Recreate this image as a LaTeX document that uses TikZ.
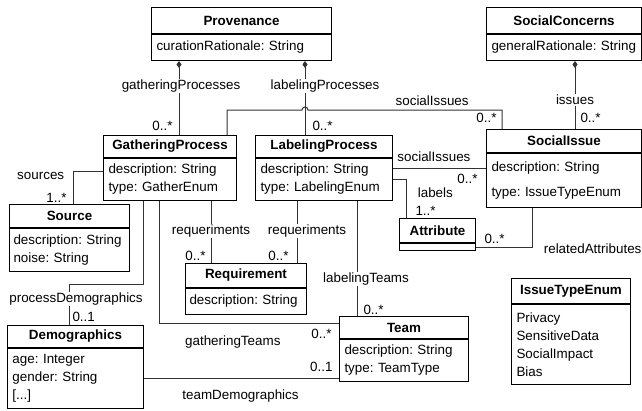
\documentclass[tikz,border=0pt]{standalone}
\usepackage{fontspec}
\setmainfont{Liberation Sans}
\usetikzlibrary{arrows.meta}

\begin{document}
\begin{tikzpicture}[x=1pt, y=-1pt, line width=1pt,
    comp/.style={-{Diamond[length=7pt,width=5pt]}},
    conn/.style={draw=black!80}]
\tikzset{every node/.style={font=\fontsize{13.4}{18}\selectfont\frenchspacing}}
\tikzset{ctitle/.style={draw, anchor=north west, inner sep=0pt,
                        font=\fontsize{13.4}{18}\selectfont\bfseries},
         cattr/.style={draw, anchor=north west, align=left,
                       inner xsep=5pt, inner ysep=0pt},
         lbl/.style={fill=white, inner sep=1pt},
         mult/.style={inner sep=1pt}}
%\tikzset{every node/.style={font=\small}}
\useasboundingbox (0,0) rectangle (642,410);

% classes
\node[ctitle, minimum width=180pt, minimum height=26pt] (prov) at (151,7) {Provenance};
\node[cattr, text width=170pt, minimum height=26pt] (prov-a) at (prov.south west) {curationRationale: String};

\node[ctitle, minimum width=155pt, minimum height=26pt] (sc) at (486,7) {SocialConcerns};
\node[cattr, text width=145pt, minimum height=26pt] (sc-a) at (sc.south west) {generalRationale: String};

\node[ctitle, minimum width=133pt, minimum height=22pt] (gp) at (103,135) {GatheringProcess};
\node[cattr, text width=123pt, minimum height=42pt] (gp-a) at (gp.south west) {description: String\\type: GatherEnum};

\node[ctitle, minimum width=137pt, minimum height=22pt] (lp) at (255,135) {LabelingProcess};
\node[cattr, text width=127pt, minimum height=42pt] (lp-a) at (lp.south west) {description: String\\type: LabelingEnum};

\node[ctitle, minimum width=155pt, minimum height=23pt] (si) at (486,129) {SocialIssue};
\node[cattr, text width=145pt, minimum height=54pt] (si-a) at (si.south west) {description: String\\[7pt]type: IssueTypeEnum};

\node[ctitle, minimum width=120pt, minimum height=23pt] (src) at (9,204) {Source};
\node[cattr, text width=112pt, inner xsep=4pt, minimum height=43pt] (src-a) at (src.south west) {description: String\\noise: String};

\node[ctitle, minimum width=76pt, minimum height=24pt] (att) at (399,218) {Attribute};
\node[cattr, text width=66pt, minimum height=7pt] (att-a) at (att.south west) {};

\node[ctitle, minimum width=121pt, minimum height=24pt] (req) at (185,263) {Requirement};
\node[cattr, text width=113pt, inner xsep=4pt, minimum height=26pt] (req-a) at (req.south west) {description: String};

\node[ctitle, minimum width=136pt, minimum height=22pt] (dem) at (7,325) {Demographics};
\node[cattr, text width=126pt, minimum height=60pt] (dem-a) at (dem.south west) {age: Integer\\gender: String\\{[...]}};

\node[ctitle, minimum width=129pt, minimum height=22pt] (team) at (339,316) {Team};
\node[cattr, text width=119pt, minimum height=42pt] (team-a) at (team.south west) {description: String\\type: TeamType};

\node[ctitle, minimum width=119pt, minimum height=25pt] (enum) at (511,278) {IssueTypeEnum};
\node[cattr, text width=109pt, minimum height=80pt] (enum-a) at (enum.south west) {Privacy\\SensitiveData\\SocialImpact\\Bias};

% compositions
\draw[conn, comp] ([xshift=76pt]gp.north west) -- ([xshift=28pt]prov-a.south west)
    node[lbl, pos=0.66, xshift=2pt] {gatheringProcesses}
    node[mult, at start, anchor=base east, xshift=-5pt, yshift=5pt] {0..*};
\draw[conn, comp] ([xshift=50pt]lp.north west) -- ([xshift=154pt]prov-a.south west)
    node[lbl, pos=0.66, xshift=20pt] {labelingProcesses}
    node[mult, at start, anchor=base west, xshift=6pt, yshift=5pt] {0..*};
\draw[conn, comp] ([xshift=89pt]si.north west) -- ([xshift=89pt]sc-a.south west)
    node[lbl, pos=0.43] {issues}
    node[mult, at start, anchor=base west, xshift=4pt, yshift=7pt] {0..*};

% associations
\draw[conn] ([xshift=124pt]gp.north west) -- ++(0,-25) -- (302,110)
    arc[start angle=180, end angle=0, radius=3pt] -- (502,110)
    node[pos=0.64, anchor=base, yshift=5pt] {socialIssues}
    node[mult, anchor=base east, xshift=-4pt, yshift=-12pt] {0..*}
    -- ([xshift=16pt]si.north west);
\draw[conn] ([yshift=11pt]lp-a.east) -- ([yshift=12pt]si-a.west)
    node[pos=0.44, anchor=base, yshift=7pt] {socialIssues}
    node[mult, at end, anchor=base east, xshift=-7pt, yshift=-15pt] {0..*};
\draw[conn] (lp-a.east) -| ([xshift=7pt]att.north west)
    node[pos=0.75, anchor=base west, xshift=8pt, yshift=1pt] {labels}
    node[mult, at end, anchor=base west, xshift=8pt, yshift=3pt] {1..*};
\draw[conn] ([xshift=46pt]si-a.south west) |- (att-a.east)
    node[pos=0.5, anchor=base west, xshift=8pt, yshift=-6.5pt] {relatedAttributes}
    node[mult, at end, anchor=base west, xshift=7pt, yshift=3.5pt] {0..*};
\draw[conn] ([yshift=8pt]gp-a.west) -| ([xshift=64pt]src.north west)
    node[pos=0.5, anchor=base east, xshift=-5pt, yshift=-8pt] {sources}
    node[mult, at end, anchor=base east, xshift=-5pt, yshift=2pt] {1..*};
\draw[conn] ([xshift=40pt]gp-a.south west) -- ++(0,83) -| ([xshift=62pt]dem.north west)
    node[lbl, pos=0.68, xshift=7pt] {processDemographics}
    node[mult, at end, anchor=base west, xshift=2pt, yshift=4pt] {0..1};
\draw[conn] ([xshift=56pt]gp-a.south west) |- ([yshift=4pt]team.west)
    node[pos=0.705, anchor=base, yshift=-22pt] {gatheringTeams}
    node[mult, at end, anchor=base east, xshift=-6pt, yshift=-15pt] {0..*};
\draw[conn] (dem-a.east) -- (dem-a.east -| team-a.west)
    node[pos=0.495, anchor=base, yshift=-21pt] {teamDemographics}
    node[mult, at end, anchor=base east, xshift=-5pt, yshift=7pt] {0..1};
\draw[conn] ([xshift=108pt]gp-a.south west) -- ([xshift=26pt]req.north west)
    node[lbl, pos=0.48] {requeriments}
    node[mult, at end, anchor=base east, xshift=-4pt, yshift=3pt] {0..*};
\draw[conn] ([xshift=42pt]lp-a.south west) -- ([xshift=112pt]req.north west)
    node[lbl, pos=0.48, xshift=10pt] {requeriments}
    node[mult, at end, anchor=base east, xshift=-7pt, yshift=3pt] {0..*};
\draw[conn] ([xshift=102pt]lp-a.south west) -- ([xshift=18pt]team.north west)
    node[lbl, pos=0.68, xshift=9pt] {labelingTeams}
    node[mult, at end, anchor=base west, xshift=5pt, yshift=2pt] {0..*};
\end{tikzpicture}
\end{document}
